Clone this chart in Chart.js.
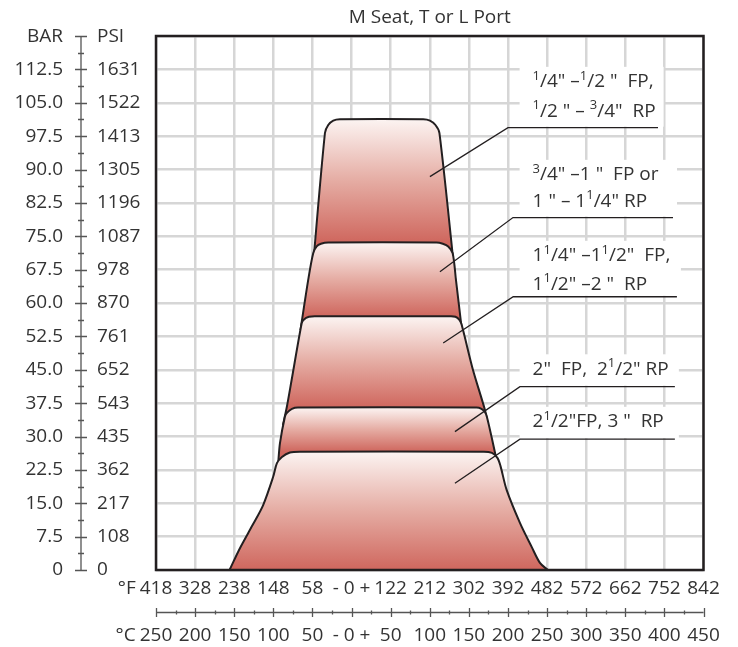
<!DOCTYPE html>
<html>
<head>
<meta charset="utf-8">
<script src="https://cdn.jsdelivr.net/npm/chart.js@4.4.0/dist/chart.umd.min.js"></script>
<style>
    html, body { margin: 0; padding: 0; background: #fff; }
</style>
</head>
<body>
<canvas id="chart" width="738" height="647"></canvas>
<script>
'use strict';

const chartTitle = 'M Seat, T or L Port';

// temperature axis (°C) and the matching °F labels
const tempTicks = [-250, -200, -150, -100, -50, 0, 50, 100, 150, 200, 250, 300, 350, 400, 450];
const tempLabelsC = ['250', '200', '150', '100', '50', '- 0 +', '50', '100', '150', '200', '250', '300', '350', '400', '450'];
const tempLabelsF = ['418', '328', '238', '148', '58', '- 0 +', '122', '212', '302', '392', '482', '572', '662', '752', '842'];

// pressure axis
const barTicks = [0, 7.5, 15, 22.5, 30, 37.5, 45, 52.5, 60, 67.5, 75, 82.5, 90, 97.5, 105, 112.5];
const barLabels = ['0', '7.5', '15.0', '22.5', '30.0', '37.5', '45.0', '52.5', '60.0', '67.5', '75.0', '82.5', '90.0', '97.5', '105.0', '112.5'];
const psiLabels = ['0', '108', '217', '362', '435', '543', '652', '761', '870', '978', '1087', '1196', '1305', '1413', '1522', '1631'];

// rating envelopes, temperature in °C / pressure in bar (smallest size first)
const seriesNames = ['1/4"-1/2" FP, 1/2"-3/4" RP', '3/4"-1" FP or 1"-1 1/4" RP', '1 1/4"-1 1/2" FP, 1 1/2"-2" RP', '2" FP, 2 1/2" RP', '2 1/2" FP, 3" RP'];
const temp1 = [-51.9, -34.0, -29.8, -23.4, -14.8, 91.7, 100.2, 107.3, 112.4, 134.0];
const bar1 = [62.9, 98.2, 100.0, 101.0, 101.3, 101.3, 101.0, 100.0, 98.2, 62.9];
const temp2 = [-65.3, -55.4, -49.0, -44.6, -39.1, -29.8, 108.8, 116.7, 123.6, 129.3, 133.5, 141.1];
const bar2 = [53.9, 65.2, 71.2, 72.7, 73.3, 73.6, 73.6, 73.3, 72.7, 71.2, 65.2, 53.9];
const temp3 = [-87.7, -83.0, -76.6, -63.8, -61.5, -54.5, -44.6, 125.8, 132.8, 137.9, 140.8, 155.2, 170.5, 174.4];
const bar3 = [32.6, 36.4, 42.7, 55.4, 56.2, 56.9, 57.0, 57.0, 56.9, 56.2, 55.1, 45.0, 36.0, 32.6];
const temp4 = [-93.8, -91.5, -85.1, -82.6, -76.2, -68.5, 159.9, 166.1, 170.5, 173.1, 180.8, 185.9];
const bar4 = [24.0, 28.5, 34.5, 35.3, 36.2, 36.5, 36.5, 36.2, 35.5, 34.4, 28.5, 24.3];
const temp5 = [-156, -142.7, -126.5, -113.0, -100.1, -95.4, -89.0, -78.8, -66.0, 169.3, 179.5, 186.5, 190.4, 198.3, 215.3, 230.3, 240.9, 251];
const bar5 = [0, 4.9, 10.1, 14.6, 21.0, 24.0, 25.4, 26.4, 26.6, 26.6, 26.3, 25.2, 23.4, 18.0, 10.6, 5.2, 1.6, 0];

const temps = [temp1, temp2, temp3, temp4, temp5];
const bars = [bar1, bar2, bar3, bar4, bar5];

// callout texts, '^' raises the next character
const noteText = [
    ['^1/4" –^1/2 "  FP,', '^1/2 " – ^3/4"  RP'],
    ['^3/4" –1 "  FP or', '1 " – 1^1/4" RP'],
    ['1^1/4" –1^1/2"  FP,', '1^1/2" –2 "  RP'],
    ['2"  FP,  2^1/2" RP'],
    ['2^1/2"FP, 3 "  RP']
];
// callout placement in axis units: text line centres, leader start, elbow, underline end
const noteLayout = [
    {lines: [109.7, 103.0], inner: [100.2, 88.4], elbow: [200.0, 99.4], end: 391.8},
    {lines: [88.8, 82.8], inner: [113.0, 67.0], elbow: [206.4, 79.2], end: 411.0},
    {lines: [70.6, 64.1], inner: [117.2, 51.0], elbow: [206.7, 61.4], end: 416.0},
    {lines: [45.1], inner: [132.2, 31.1], elbow: [215.3, 41.2], end: 413.4},
    {lines: [33.3], inner: [132.2, 19.5], elbow: [215.3, 29.4], end: 413.4}
];
const noteLeft = 231.5;

const INK = '#231f20';
const TEXT = '#333';
const FONT = '"Open Sans", "Noto Sans", sans-serif';

function richText (ctx, str, x, y, draw)
{
    let cx = x;
    for (let i = 0; i < str.length; i++)
    {
        let ch = str[i];
        let sup = false;
        if (ch === '^')
        {
            sup = true;
            ch = str[++i];
        }
        ctx.font = (sup ? '13px ' : '19px ') + FONT;
        if (draw)
        {
            ctx.fillText(ch, cx, sup ? y - 6 : y);
        }
        cx += ctx.measureText(ch).width;
    }
    return cx - x;
}

function fillGradient (context)
{
    const chart = context.chart;
    if (!chart.chartArea) return '#e6aaa1';
    const i = context.datasetIndex;
    const y = chart.scales.y;
    const top = y.getPixelForValue(Math.max(...bars[i]));
    const nextTop = i + 1 < bars.length ? Math.max(...bars[i + 1]) : 0;
    const bottom = y.getPixelForValue(nextTop);
    const g = chart.ctx.createLinearGradient(0, top, 0, bottom);
    g.addColorStop(0, '#fcf4f2');
    g.addColorStop(0.5, '#e5aca3');
    g.addColorStop(1, '#cf675e');
    return g;
}

const extras = {
    id: 'extras',
    beforeDatasetsDraw (chart)
    {
        const {ctx, scales: {x, y}} = chart;
        ctx.save();
        ctx.fillStyle = '#fff';
        ctx.textBaseline = 'middle';
        noteText.forEach((lines, i) =>
        {
            const L = noteLayout[i];
            const left = x.getPixelForValue(noteLeft);
            let right = x.getPixelForValue(L.end);
            lines.forEach((s) =>
            {
                right = Math.max(right, left + richText(ctx, s, left, 0, false) + 4);
            });
            const top = y.getPixelForValue(L.lines[0]) - 15;
            const bottom = y.getPixelForValue(L.elbow[1]) - 1;
            ctx.fillRect(left - 13, top, right - left + 17, bottom - top);
        });
        ctx.restore();
    },
    afterDatasetsDraw (chart)
    {
        const {ctx, chartArea: a, scales: {x, y}} = chart;
        ctx.save();

        // callouts
        ctx.strokeStyle = INK;
        ctx.lineWidth = 1.3;
        ctx.fillStyle = TEXT;
        ctx.textBaseline = 'middle';
        ctx.textAlign = 'left';
        noteText.forEach((lines, i) =>
        {
            const L = noteLayout[i];
            const ey = y.getPixelForValue(L.elbow[1]);
            ctx.beginPath();
            ctx.moveTo(x.getPixelForValue(L.inner[0]), y.getPixelForValue(L.inner[1]));
            ctx.lineTo(x.getPixelForValue(L.elbow[0]), ey);
            ctx.lineTo(x.getPixelForValue(L.end), ey);
            ctx.stroke();
            lines.forEach((s, j) =>
            {
                richText(ctx, s, x.getPixelForValue(noteLeft), y.getPixelForValue(L.lines[j]), true);
            });
        });

        // plot frame
        ctx.strokeStyle = INK;
        ctx.lineWidth = 2.5;
        ctx.strokeRect(a.left, a.top, a.right - a.left, a.bottom - a.top);

        // title
        ctx.font = '19px ' + FONT;
        ctx.textAlign = 'center';
        ctx.fillStyle = TEXT;
        ctx.fillText(chartTitle, (a.left + a.right) / 2, 18);

        // pressure axis: BAR | PSI
        const ax = 81;
        ctx.strokeStyle = '#555';
        ctx.lineWidth = 1.3;
        ctx.beginPath();
        ctx.moveTo(ax, y.getPixelForValue(120));
        ctx.lineTo(ax, y.getPixelForValue(0));
        for (let v = 0; v <= 120; v += 3.75)
        {
            const py = Math.round(y.getPixelForValue(v)) + 0.5;
            const major = Math.abs(v / 7.5 - Math.round(v / 7.5)) < 1e-6;
            ctx.moveTo(major ? ax - 6 : ax - 3, py);
            ctx.lineTo(major ? ax + 6 : ax + 3, py);
        }
        ctx.stroke();

        ctx.font = '19px ' + FONT;
        ctx.fillStyle = TEXT;
        const topY = y.getPixelForValue(120) + 1;
        ctx.textAlign = 'right';
        ctx.fillText('BAR', 63, topY);
        barTicks.forEach((v, i) => ctx.fillText(barLabels[i], 63, y.getPixelForValue(v)));
        ctx.textAlign = 'left';
        ctx.fillText('PSI', 97, topY);
        barTicks.forEach((v, i) => ctx.fillText(psiLabels[i], 97, y.getPixelForValue(v)));

        // temperature axis: °F over °C
        const fy = 589;
        const cy = 636;
        const ty = 612.5;
        ctx.textAlign = 'center';
        tempTicks.forEach((t, i) =>
        {
            const px = x.getPixelForValue(t);
            ctx.fillText(tempLabelsF[i], px, fy);
            ctx.fillText(tempLabelsC[i], px, cy);
        });
        ctx.textAlign = 'right';
        const x0 = x.getPixelForValue(tempTicks[0]);
        ctx.fillText('°F', x0 - ctx.measureText(tempLabelsF[0]).width / 2 - 4, fy);
        ctx.fillText('°C', x0 - ctx.measureText(tempLabelsC[0]).width / 2 - 4, cy);

        ctx.beginPath();
        ctx.moveTo(a.left, ty);
        ctx.lineTo(x.getPixelForValue(450), ty);
        for (let t = -250; t <= 450; t += 25)
        {
            const px = Math.round(x.getPixelForValue(t)) + 0.5;
            const major = t % 50 === 0;
            ctx.moveTo(px, major ? ty - 4.5 : ty - 2);
            ctx.lineTo(px, major ? ty + 4.5 : ty + 2);
        }
        ctx.stroke();

        ctx.restore();
    }
};

const datasets = seriesNames.map((name, i) => ({
    label: name,
    data: temps[i].map((t, k) => ({x: t, y: bars[i][k]})),
    order: seriesNames.length - 1 - i,
    borderColor: INK,
    borderWidth: 2,
    backgroundColor: fillGradient,
    fill: 'origin',
    tension: 0.3,
    pointRadius: 0
}));

new Chart(document.getElementById('chart').getContext('2d'), {
    type: 'line',
    data: {datasets},
    options: {
        responsive: false,
        animation: false,
        layout: {padding: {left: 156, right: 34.5, top: 36, bottom: 77}},
        plugins: {legend: {display: false}, tooltip: {enabled: false}, title: {display: false}},
        scales: {
            x: {
                type: 'linear',
                min: -250,
                max: 450,
                ticks: {display: false, stepSize: 50},
                grid: {color: '#d6d6d6', lineWidth: 2.5, drawTicks: false},
                border: {display: false},
                afterFit: (s) => { s.height = 0; }
            },
            y: {
                type: 'linear',
                min: 0,
                max: 120,
                ticks: {display: false, stepSize: 7.5},
                grid: {color: '#d6d6d6', lineWidth: 2.5, drawTicks: false},
                border: {display: false},
                afterFit: (s) => { s.width = 0; }
            }
        }
    },
    plugins: [extras]
});
</script>
</body>
</html>
